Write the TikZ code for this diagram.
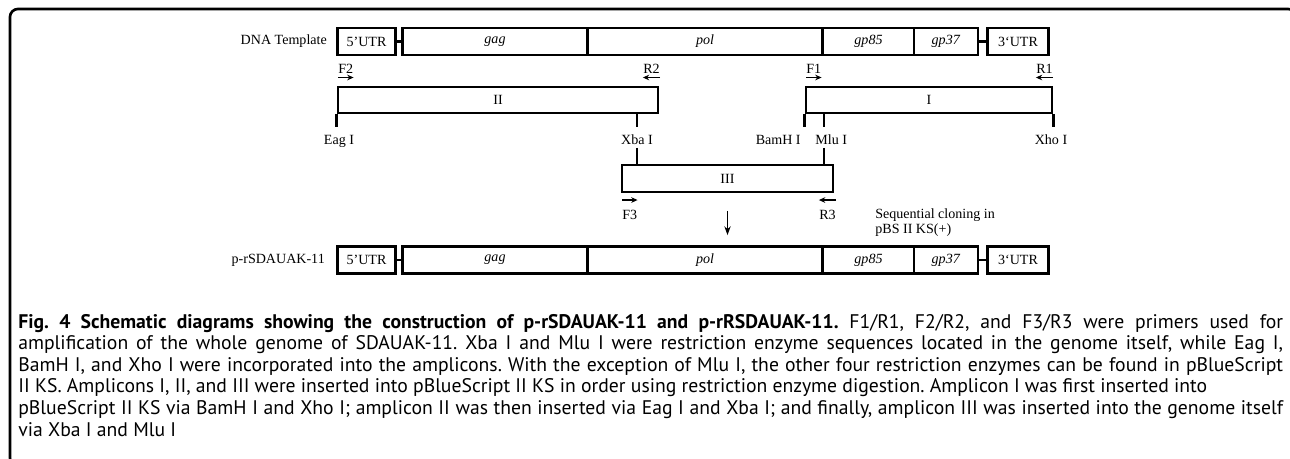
\documentclass[tikz,border=0pt]{standalone}
\usepackage{fontspec}
\setmainfont{Liberation Serif}
\newfontfamily\capfont{PT Sans}
\usepackage{tikz}
\usetikzlibrary{arrows.meta,positioning,calc}
\newcommand{\diafont}{\fontsize{8}{9}\selectfont}

\begin{document}
\begin{tikzpicture}[x=0.02cm, y=-0.02cm,
    gene/.style={draw, line width=1.6pt, minimum height=0.54cm, inner sep=0pt, font=\diafont},
    amp/.style={draw, line width=1.6pt, minimum height=0.52cm, inner sep=0pt, font=\diafont},
    link/.style={line width=1.6pt},
    tick/.style={line width=1.6pt},
    site/.style={font=\diafont, inner sep=0pt, text height=5.5pt, text depth=0pt, anchor=south},
    primer/.style={font=\diafont, inner sep=0pt},
    parrow/.style={-{Stealth[length=3.6pt, width=3.2pt]}, line width=0.7pt},
    darrow/.style={-{Stealth[length=5pt, width=3.6pt]}, line width=0.7pt},
    frame/.style={line width=1.5pt, rounded corners=4.5pt}
]
    \useasboundingbox (0,0) rectangle (1290,459);
    \draw[frame] (10,9) rectangle (1296,466);

    % Genome rows: template and clone
    \foreach \row/\y in {tmpl/41.5, clone/260} {
        \node[gene, minimum width=1.16cm] (\row-utr5) at (366.5,\y) {5’UTR};
        \node[gene, minimum width=3.70cm] (\row-gag)  at (495,\y)   {\textit{gag}};
        \node[gene, minimum width=4.70cm] (\row-pol)  at (705,\y)   {\textit{pol}};
        \node[gene, minimum width=1.82cm] (\row-gp85) at (868.5,\y) {\textit{gp85}};
        \node[gene, minimum width=1.28cm] (\row-gp37) at (946,\y)   {\textit{gp37}};
        \node[gene, minimum width=1.21cm] (\row-utr3) at (1018,\y)  {3‘UTR};
        \draw[link] (\row-utr5) -- (\row-gag);
        \draw[link] (\row-gp37) -- (\row-utr3);
    }
    \node[anchor=east, font=\diafont] (tmpl-name)  at (333,41.5) {DNA Template};
    \node[anchor=east, font=\diafont] (clone-name) at (331,260)  {p-rSDAUAK-11};

    % Primers above amplicons I and II
    \node[primer, anchor=base west] (f2) at (338,74)  {F2};
    \node[primer, anchor=base east] (r2) at (660,74)  {R2};
    \node[primer, anchor=base west] (f1) at (806,74)  {F1};
    \node[primer, anchor=base east] (r1) at (1053,74) {R1};
    \draw[parrow] ([yshift=-2pt]f2.base west) -- ([yshift=-2pt]f2.base east);
    \draw[parrow] ([yshift=-2pt]r2.base east) -- ([yshift=-2pt]r2.base west);
    \draw[parrow] ([yshift=-2pt]f1.base west) -- ([yshift=-2pt]f1.base east);
    \draw[parrow] ([yshift=-2pt]r1.base east) -- ([yshift=-2pt]r1.base west);

    % Amplicons
    \node[amp, minimum width=6.40cm] (ampII)  at (498,100)    {II};
    \node[amp, minimum width=4.92cm] (ampI)   at (929,100)    {I};
    \node[amp, minimum width=4.22cm, minimum height=0.54cm] (ampIII) at (727.5,178.5) {III};

    % Restriction sites
    \node[site] (eag)  at (339,145)  {Eag I};
    \node[site] (xba)  at (637,145)  {Xba I};
    \node[site, anchor=south east] (bamh) at (801,145) {BamH I};
    \node[site, anchor=south west] (mlu)  at (815,145) {Mlu I};
    \node[site] (xho)  at (1051,145) {Xho I};
    \coordinate (mluX) at (824,113);

    \draw[tick, shorten >=4.1pt] (ampII.south west) -- (ampII.south west |- eag.north);
    \draw[tick, shorten >=4.1pt] (ampII.south -| xba) -- (xba.north);
    \draw[tick, shorten >=4.1pt] (ampI.south west) -- (ampI.south west |- bamh.north);
    \draw[tick, shorten >=4.1pt] (mluX) -- (mluX |- mlu.north);
    \draw[tick, shorten >=4.1pt] (ampI.south east) -- (ampI.south east |- xho.north);
    \draw[tick, shorten <=1.7pt] (xba.south) -- (xba |- ampIII.north);
    \draw[tick, shorten <=1.7pt] (mluX |- mlu.south) -- (mluX |- ampIII.north);

    % Primers below amplicon III
    \node[primer, anchor=base west] (f3) at (622,219) {F3};
    \node[primer, anchor=base east] (r3) at (836,219) {R3};
    \draw[parrow] ([yshift=10.8pt]f3.base west) -- ([yshift=10.8pt]f3.base east);
    \draw[parrow] ([yshift=10.8pt]r3.base east) -- ([yshift=10.8pt]r3.base west);

    % Cloning step
    \draw[darrow, shorten <=10pt, shorten >=5.7pt] (ampIII.south) -- (ampIII.south |- clone-pol.north);
    \node[anchor=north west, font=\diafont, align=left, inner sep=0pt] (step-note) at (875,208)
        {Sequential cloning in\\pBS II KS(+)};

    % Caption
    \node[anchor=north west, inner sep=0pt, text width=25.3cm, align=justify] (caption) at (18,314) {%
        \capfont\fontsize{11.2}{12.25}\selectfont\tolerance=10000\frenchspacing
        \textbf{Fig. 4 Schematic diagrams showing the construction of p-rSDAUAK-11 and p-rRSDAUAK-11.} F1/R1, F2/R2, and F3/R3 were primers used for\linebreak
        amplification of the whole genome of SDAUAK-11. Xba I and Mlu I were restriction enzyme sequences located in the genome itself, while Eag I,\linebreak
        BamH I, and Xho I were incorporated into the amplicons. With the exception of Mlu I, the other four restriction enzymes can be found in pBlueScript\linebreak
        II KS. Amplicons I, II, and III were inserted into pBlueScript II KS in order using restriction enzyme digestion. Amplicon I was first inserted into\\
        pBlueScript II KS via BamH I and Xho I; amplicon II was then inserted via Eag I and Xba I; and finally, amplicon III was inserted into the genome itself\linebreak
        via Xba I and Mlu I\par};
\end{tikzpicture}
\end{document}
